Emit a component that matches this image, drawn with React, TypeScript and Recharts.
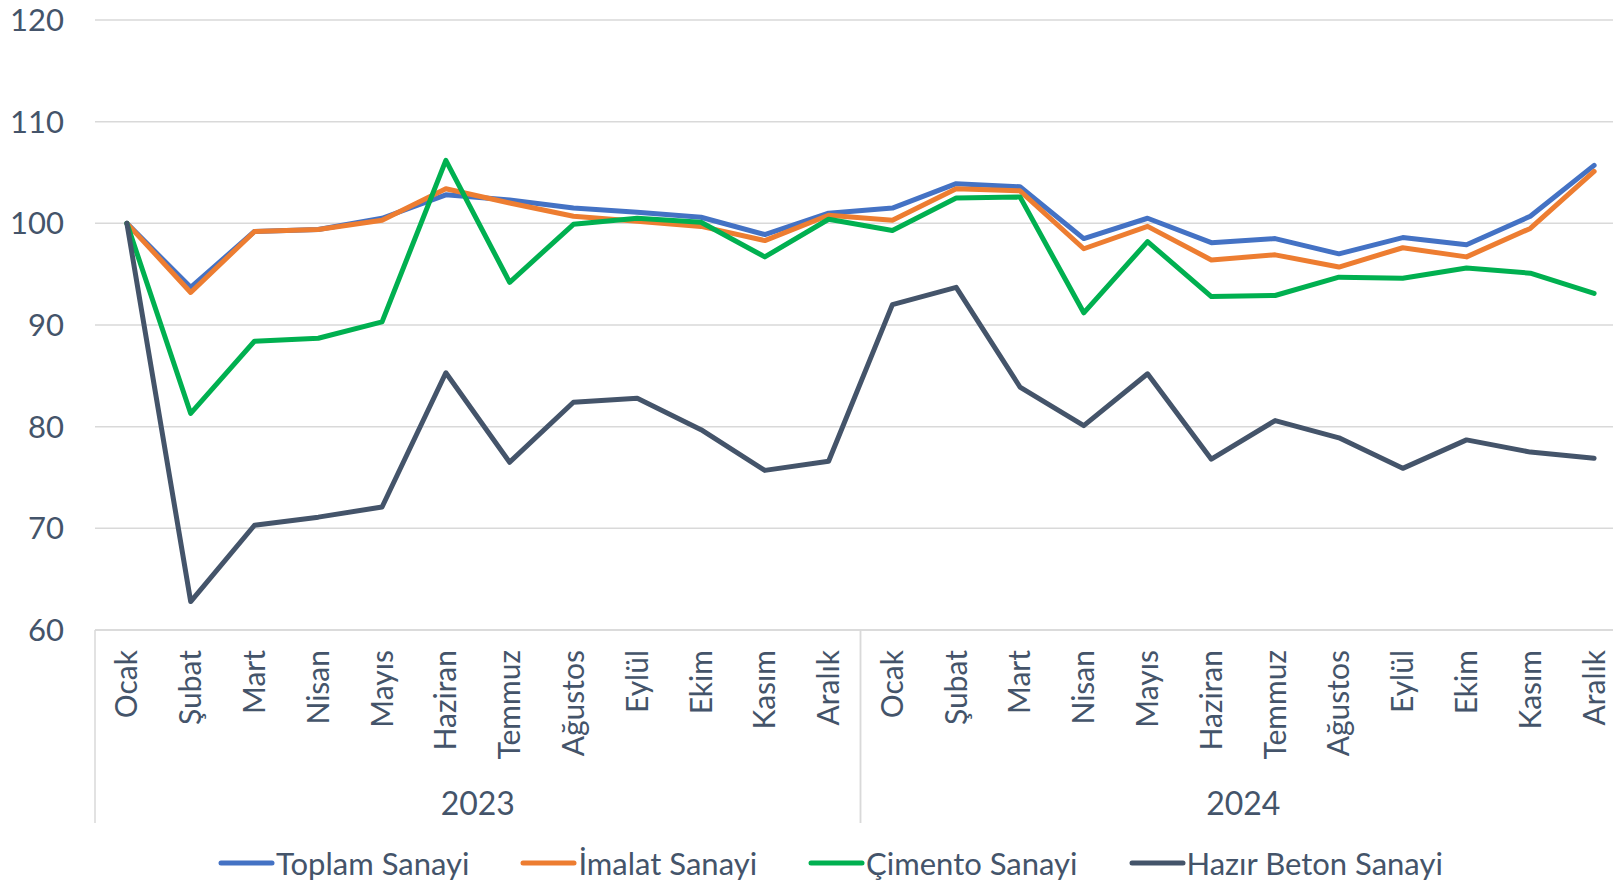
import React from 'react';
import { LineChart, Line, XAxis, YAxis, CartesianGrid } from 'recharts';

const months = ['Ocak', 'Şubat', 'Mart', 'Nisan', 'Mayıs', 'Haziran', 'Temmuz', 'Ağustos', 'Eylül', 'Ekim', 'Kasım', 'Aralık'];
const years = ['2023', '2024'];
const yTicks = [60, 70, 80, 90, 100, 110, 120];

// 2023 Ocak .. 2024 Aralık
const toplam = [100, 93.7, 99.2, 99.4, 100.5, 102.8, 102.3, 101.5, 101.1, 100.6, 98.9, 101.0,
  101.5, 103.9, 103.6, 98.5, 100.5, 98.1, 98.5, 97.0, 98.6, 97.9, 100.7, 105.7];
const imalat = [100, 93.2, 99.2, 99.4, 100.3, 103.4, 102.0, 100.7, 100.2, 99.7, 98.3, 100.8,
  100.3, 103.4, 103.2, 97.5, 99.7, 96.4, 96.9, 95.7, 97.6, 96.7, 99.5, 105.1];
const cimento = [100, 81.3, 88.4, 88.7, 90.3, 106.2, 94.2, 99.9, 100.5, 100.1, 96.7, 100.4,
  99.3, 102.5, 102.6, 91.2, 98.2, 92.8, 92.9, 94.7, 94.6, 95.6, 95.1, 93.1];
const beton = [100, 62.8, 70.3, 71.1, 72.1, 85.3, 76.5, 82.4, 82.8, 79.7, 75.7, 76.6,
  92.0, 93.7, 83.9, 80.1, 85.2, 76.8, 80.6, 78.9, 75.9, 78.7, 77.5, 76.9];

const series = [
  { key: 'toplam', name: 'Toplam Sanayi', color: '#4472c4' },
  { key: 'imalat', name: 'İmalat Sanayi', color: '#ed7d31' },
  { key: 'cimento', name: 'Çimento Sanayi', color: '#00b050' },
  { key: 'beton', name: 'Hazır Beton Sanayi', color: '#44546a' },
];

const data = years.flatMap((year, yi) =>
  months.map((month, mi) => {
    const i = yi * 12 + mi;
    return { year, month, toplam: toplam[i], imalat: imalat[i], cimento: cimento[i], beton: beton[i] };
  })
);

const FONT = 'Lato, "Noto Sans", sans-serif';
const TEXT = '#44546a';
const GRID = '#d9d9d9';

const CHART_W = 1627;
const CHART_H = 885;
const LEFT = 95;
const RIGHT = 1;
const PLOT_W = CHART_W - LEFT - RIGHT;
const BAND = PLOT_W / data.length;
const MONTH_H = 150;
const YEAR_H = 43;

function MonthTick({ x, y, payload }: any) {
  const ty = y + 20;
  return (
    <text x={x} y={ty} transform={`rotate(-90, ${x}, ${ty})`} textAnchor="end" dy="0.35em"
      fill={TEXT} fontSize={30} fontFamily={FONT}>
      {payload.value}
    </text>
  );
}

function YearTick({ x, y, payload }: any) {
  const half = PLOT_W / 4;
  return (
    <g>
      <line x1={x - half} x2={x - half} y1={y - MONTH_H} y2={y + YEAR_H} stroke={GRID} strokeWidth={1.5} />
      <line x1={x + half} x2={x + half} y1={y - MONTH_H} y2={y + YEAR_H} stroke={GRID} strokeWidth={1.5} />
      <text x={x} y={y + 24} textAnchor="middle" dy="0.35em" fill={TEXT} fontSize={32} fontFamily={FONT}>
        {payload.value}
      </text>
    </g>
  );
}

function LegendRow() {
  return (
    <div style={{ position: 'absolute', left: 218, top: 844, display: 'flex', alignItems: 'center', fontFamily: FONT, fontSize: 31, color: TEXT, whiteSpace: 'nowrap' }}>
      {series.map((s) => (
        <div key={s.key} style={{ display: 'flex', alignItems: 'center', marginRight: 51 }}>
          <svg width={57} height={10} style={{ marginRight: 1 }}>
            <line x1={3} x2={54} y1={5} y2={5} stroke={s.color} strokeWidth={5} strokeLinecap="round" />
          </svg>
          <span>{s.name}</span>
        </div>
      ))}
    </div>
  );
}

export default function App() {
  return (
    <div style={{ position: 'absolute', left: 0, top: 0, width: 1613, height: 885, overflow: 'hidden', background: '#fff' }}>
      <LineChart width={CHART_W} height={CHART_H} data={data} margin={{ top: 20, right: RIGHT, bottom: 62, left: 0 }}>
        <CartesianGrid vertical={false} stroke={GRID} strokeWidth={1.5} />
        <XAxis xAxisId="month" dataKey="month" padding={{ left: BAND / 2, right: BAND / 2 }} height={MONTH_H} interval={0}
          tickLine={false} tickSize={0} tickMargin={0} axisLine={{ stroke: GRID, strokeWidth: 1.5 }} tick={<MonthTick />} />
        <XAxis xAxisId="year" dataKey="year" scale="band" allowDuplicatedCategory={false} ticks={years} height={YEAR_H} interval={0}
          tickLine={false} axisLine={false} tickSize={0} tickMargin={0} tick={<YearTick />} />
        <YAxis width={LEFT} domain={[60, 120]} ticks={yTicks} interval={0} axisLine={false} tickLine={false}
          tickSize={0} tickMargin={31} tick={{ fill: TEXT, fontSize: 31, fontFamily: FONT }} />
        {series.map((s) => (
          <Line key={s.key} xAxisId="month" type="linear" dataKey={s.key} name={s.name} stroke={s.color}
            strokeWidth={5} strokeLinejoin="round" strokeLinecap="round" dot={false} isAnimationActive={false} />
        ))}
      </LineChart>
      <LegendRow />
    </div>
  );
}
